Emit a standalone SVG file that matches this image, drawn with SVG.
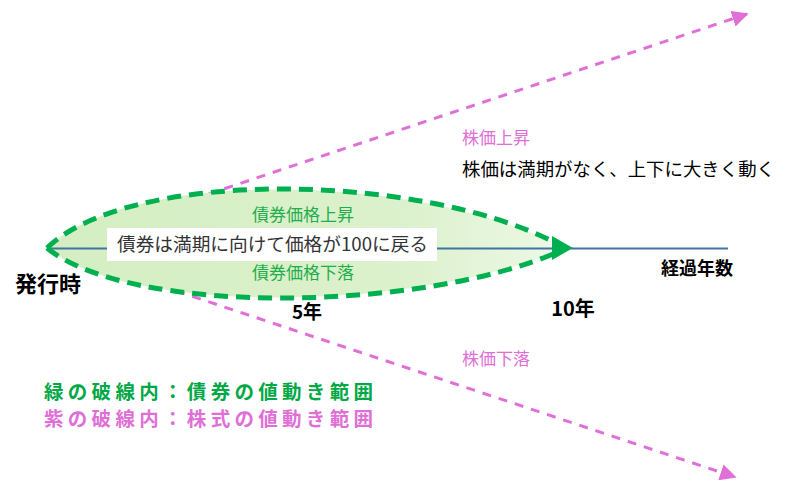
<svg xmlns="http://www.w3.org/2000/svg" width="797" height="495" viewBox="0 0 797 495">
<style>
.jp{font-family:"Noto Sans CJK JP","Noto Sans",sans-serif}
.pk{fill:none;stroke:#e070d8;stroke-width:3;stroke-dasharray:9 8}
.gr{fill:none;stroke:#00b050;stroke-width:5;stroke-dasharray:14 8}
.gt{fill:#1fae4c;font-size:17px}
.pt{fill:#df6fd6;font-size:17px}
.bk{fill:#000;font-weight:bold}
</style>
<defs>
<marker id="pa" viewBox="0 0 10 10" refX="9" refY="5" markerWidth="5.5" markerHeight="5.5" orient="auto" markerUnits="strokeWidth"><path d="M0,0 L10,5 L0,10 Z" fill="#e070d8"/></marker>
<linearGradient id="lg" x1="0" y1="0" x2="1" y2="0"><stop offset="0" stop-color="#d4eec2"/><stop offset="0.7" stop-color="#dcf1cd"/><stop offset="1" stop-color="#eef9e6"/></linearGradient>
</defs>
<rect width="797" height="495" fill="#fff"/>
<g id="connectors">
<path id="stock-up" class="pk" d="M47,248 L747,14" marker-end="url(#pa)"/>
<path id="stock-down" class="pk" d="M47,248 L735,477" marker-end="url(#pa)"/>
<path id="bond-fill" d="M47,248 C130,168 420,172 565,248 C420,312 130,316 47,248 Z" fill="url(#lg)"/>
<line id="axis" x1="47" y1="248.5" x2="728" y2="248.5" stroke="#3f74a3" stroke-width="2"/>
<path id="bond-up" class="gr" d="M47,248 C130,168 420,172 558,244"/>
<path id="bond-down" class="gr" d="M47,248 C130,316 420,312 558,252"/>
<path id="bond-arrow" d="M552,236 L573,248 L552,260 Z" fill="#00b050"/>
</g>
<g id="bond-note">
<rect x="107" y="228" width="330" height="33" fill="#fff"/>
<text class="jp" x="117" y="251" font-size="18" fill="#333" textLength="311" lengthAdjust="spacingAndGlyphs">債券は満期に向けて価格が100に戻る</text>
</g>
<g id="bond-labels">
<text class="jp gt" x="303" y="221" text-anchor="middle">債券価格上昇</text>
<text class="jp gt" x="303" y="279" text-anchor="middle">債券価格下落</text>
</g>
<g id="stock-labels">
<text class="jp pt" x="462" y="144">株価上昇</text>
<text class="jp" x="462" y="176" font-size="18" fill="#000" textLength="313" lengthAdjust="spacingAndGlyphs">株価は満期がなく、上下に大きく動く</text>
<text class="jp pt" x="462" y="365">株価下落</text>
</g>
<g id="axis-labels">
<text class="jp bk" x="15" y="292" font-size="22">発行時</text>
<text class="jp bk" x="307" y="319" font-size="19" text-anchor="middle">5年</text>
<text class="jp bk" x="573" y="316" font-size="20" text-anchor="middle">10年</text>
<text class="jp bk" x="697" y="275" font-size="18" text-anchor="middle">経過年数</text>
</g>
<g id="legend">
<text class="jp" x="44" y="399" font-size="19.5" font-weight="bold" fill="#00a846" textLength="329" lengthAdjust="spacing">緑の破線内：債券の値動き範囲</text>
<text class="jp" x="44" y="426" font-size="19.5" font-weight="bold" fill="#df6fd6" textLength="329" lengthAdjust="spacing">紫の破線内：株式の値動き範囲</text>
</g>
</svg>
